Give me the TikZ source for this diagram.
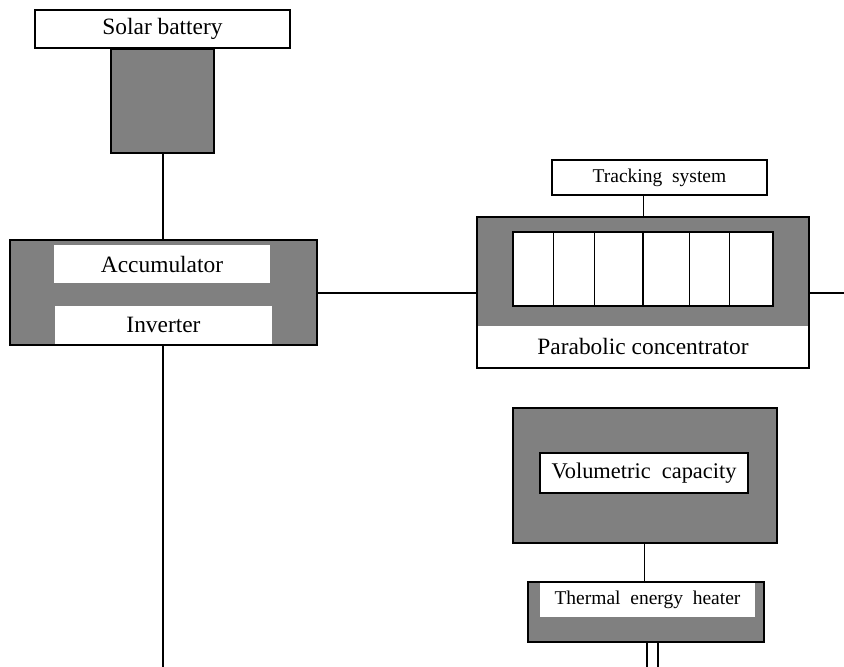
\documentclass[tikz,border=0pt]{standalone}
\usepackage{fontspec}
\setmainfont{Liberation Serif}
\begin{document}
\begin{tikzpicture}[x=1pt,y=-1pt,
  box/.style={draw=black,line width=2.4pt,inner sep=0pt,outer sep=0pt},
  darkbox/.style={box,fill=black!50},
  plain/.style={fill=white,inner sep=0pt,outer sep=0pt},
  conn/.style={line width=2pt,black},
  thin/.style={line width=0.9pt,black},
  big/.style={font=\fontsize{23.4}{27}\selectfont},
  mid/.style={font=\fontsize{22.4}{26}\selectfont},
  small/.style={font=\fontsize{19.5}{23}\selectfont}]
\useasboundingbox (0,0) rectangle (844,667);
% left column
\node[box,fill=white,big,minimum width=255pt,minimum height=38pt] (solar) at (162.5,29) {Solar battery};
\node[darkbox,minimum width=103pt,minimum height=104pt] (panel) at (162.5,101) {};
\node[darkbox,minimum width=307pt,minimum height=105pt] (accu) at (163.5,292.5) {};
\node[plain,big,minimum width=216pt,minimum height=38pt] (acc) at (162,264) {Accumulator};
\node[plain,big,minimum width=217pt,minimum height=38pt] (inv) at (163.5,325) {Inverter};
\coordinate (bottomL) at (163,667);
\draw[conn] (panel.south) -- (accu.north -| panel.south);
\draw[conn] (accu.south -| bottomL) -- (bottomL);
% parabolic concentrator
\node[box,fill=white,small,minimum width=215pt,minimum height=35pt] (track) at (659.5,177.5) {Tracking\ \ system};
\node[darkbox,minimum width=332pt,minimum height=151pt] (para) at (643,292.5) {};
\node[plain,big,minimum width=330pt,minimum height=42pt] (plabel) at (643,346.5) {Parabolic concentrator};
\draw[box] (para.north west) rectangle (para.south east);
\node[box,fill=white,minimum width=260pt,minimum height=74pt] (win) at (643,269) {};
\foreach \xx in {553,594,689,729} \draw[thin] (\xx,232) -- (\xx,306);
\draw[line width=1.4pt] (643,232) -- (643,306);
\coordinate (tx) at (643,0);
\draw[thin] (track.south -| tx) -- (para.north -| tx);
\coordinate (rightEnd) at (844,292);
\draw[conn] (accu.east) -- (para.west);
\draw[conn] (para.east) -- (para.east -| rightEnd);
% volumetric capacity
\node[darkbox,minimum width=264pt,minimum height=135pt] (vol) at (645,475.5) {};
\node[box,fill=white,mid,minimum width=208pt,minimum height=40pt] (volt) at (644,473) {Volumetric\ \ capacity};
\node[darkbox,minimum width=236pt,minimum height=60pt] (heat) at (646,612) {};
\node[plain,small,minimum width=215pt,minimum height=34pt] (heatt) at (647.5,600) {Thermal\ \ energy\ \ heater};
\coordinate (vx) at (644,0);
\draw[thin] (vol.south -| vx) -- (heat.north -| vx);
\coordinate (p1) at (647,667);
\coordinate (p2) at (658,667);
\draw[conn] (heat.south -| p1) -- (p1);
\draw[conn] (heat.south -| p2) -- (p2);
\end{tikzpicture}
\end{document}
